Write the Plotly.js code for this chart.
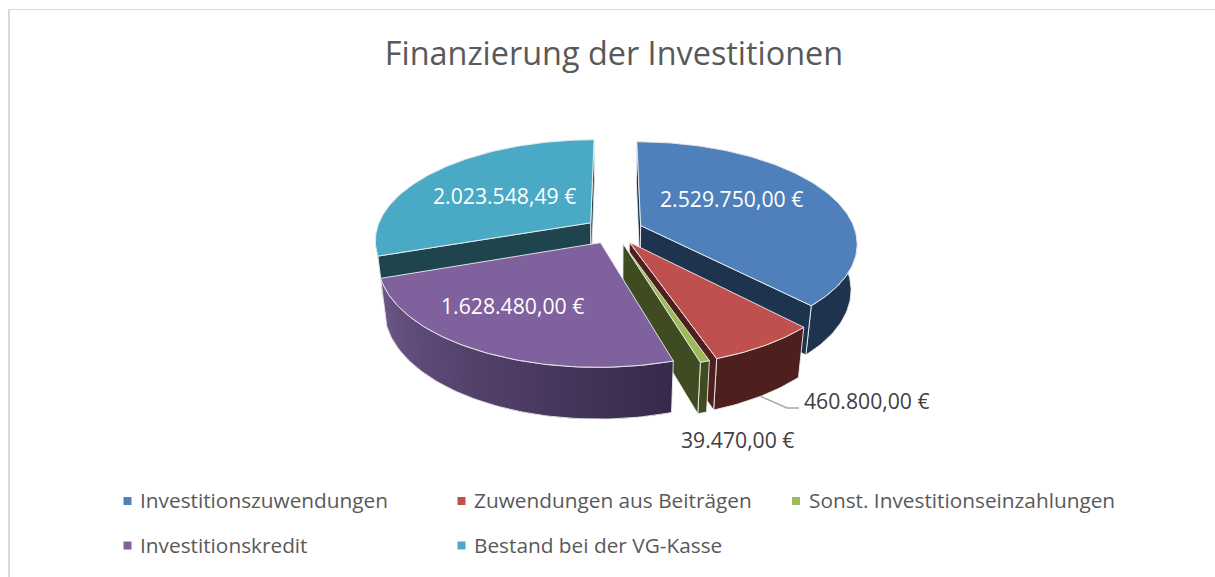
<!DOCTYPE html>
<html><head><meta charset="utf-8">
<script src="https://cdn.plot.ly/plotly-3.0.1.min.js"></script>
<style>html,body{margin:0;padding:0;background:#fff}#c{width:1215px;height:577px}</style>
</head><body><div id="c"></div>
<script>
const categories = ["Investitionszuwendungen","Zuwendungen aus Beiträgen","Sonst. Investitionseinzahlungen","Investitionskredit","Bestand bei der VG-Kasse"];
const values = [2529750.00, 460800.00, 39470.00, 1628480.00, 2023548.49];
const valueLabels = ["2.529.750,00 €","460.800,00 €","39.470,00 €","1.628.480,00 €","2.023.548,49 €"];
const topColors = ["#4f80bc","#c0504d","#9bbb59","#7f619e","#4aaac5"];
const wallColors = ["#1e334e","#4e1f1d","#3f4c21","#5a4670","#1f444e"];

const FONT = '"Open Sans", "Noto Sans", sans-serif';
// projection of the tilted, exploded disc into the plot's axis units
const P = {cx:614, cy:230.5, A:214.5, B:99.3, D:46.8, a:0.167, c:0.025, e:0.135};
function proj(u,v,z){
  const W = 1 - P.a*v + P.c*z;
  return [P.cx + P.A*u/W, P.cy + (P.B*v + P.D*z)/W];
}
const total = values.reduce((s,v)=>s+v,0);
let acc = 0;
const slices = values.map((v,i)=>{
  const s = acc/total*2*Math.PI; acc += v;
  const t = acc/total*2*Math.PI;
  return {i, s, t, m:(s+t)/2};
});
function pt(sl,th,r,z){
  const u = r*Math.sin(th) + P.e*Math.sin(sl.m);
  const v = -r*Math.cos(th) - P.e*Math.cos(sl.m);
  return proj(u,v,z);
}
function arc(sl,from,to,z){
  const n = Math.max(2,Math.ceil(Math.abs(to-from)/(Math.PI/180)));
  const out=[];
  for(let k=0;k<=n;k++) out.push(pt(sl,from+(to-from)*k/n,1,z));
  return out;
}
const traces = [];
function poly(points,fill,line,width){
  traces.push({type:'scatter',mode:'lines',x:points.map(p=>p[0]).concat(points[0][0]),y:points.map(p=>p[1]).concat(points[0][1]),
    fill:'toself',fillcolor:fill,line:{color:line,width:width},hoverinfo:'skip',showlegend:false});
}
function area(q){
  let s=0;
  q.forEach((p,k)=>{const n=q[(k+1)%q.length]; s+=p[0]*n[1]-n[0]*p[1];});
  return s;
}
function mix(c1,c2,f){
  const h=c=>[1,3,5].map(k=>parseInt(c.substr(k,2),16));
  const a=h(c1),b=h(c2);
  return 'rgb('+a.map((x,k)=>Math.round(x+(b[k]-x)*f)).join(',')+')';
}
const EDGE='rgba(236,238,240,0.9)';
function drawSlice(sl){
  const wall=wallColors[sl.i];
  const top=arc(sl,sl.s,sl.t,0), bot=arc(sl,sl.s,sl.t,1);
  const apexT=pt(sl,0,0,0), apexB=pt(sl,0,0,1);
  // outer wall
  if(sl.i===3){
    const n=top.length-1;
    for(let k=0;k<n;k++){
      const f=k/(n-1);
      const col=mix("#38294a","#6d5789",f);
      const j=Math.min(k+2,n);
      poly([top[k],top[k+1],top[j],bot[j],bot[k+1],bot[k]],col,col,0);
    }
    const edge=top.concat(bot.slice().reverse());
    traces.push({type:'scatter',mode:'lines',x:edge.map(p=>p[0]).concat(edge[0][0]),y:edge.map(p=>p[1]).concat(edge[0][1]),line:{color:EDGE,width:1},hoverinfo:'skip',showlegend:false});
  } else {
    poly(top.concat(bot.slice().reverse()),wall,EDGE,1);
  }
  // cut faces, only when they face the viewer
  const faceS=[apexT,pt(sl,sl.s,1,0),pt(sl,sl.s,1,1),apexB];
  const faceT=[apexT,pt(sl,sl.t,1,0),pt(sl,sl.t,1,1),apexB];
  if(area(faceS)<0) poly(faceS,wall,EDGE,1);
  if(area(faceT)>0) poly(faceT,wall,EDGE,1);
  // top face
  poly([apexT].concat(top),topColors[sl.i],EDGE,1);
}
// painter's order, back to front
[4,0,1,2,3].forEach(i=>drawSlice(slices[i]));

// leader line for the small red slice label
const red=slices[1];
const lead0=pt(red,red.s+(red.t-red.s)*0.5,1,1);
traces.push({type:'scatter',mode:'lines',x:[lead0[0],787,799],y:[lead0[1],408,408],line:{color:'#a6a6a6',width:1.5},hoverinfo:'skip',showlegend:false});

// legend squares
const legendX=[127.5,461.5,796,127.5,461.5], legendY=[501,501,501,545.5,545.5];
categories.forEach((c,i)=>{
  traces.push({type:'scatter',mode:'markers',x:[legendX[i]],y:[legendY[i]],name:c,
    marker:{symbol:'square',size:8,color:topColors[i]},hoverinfo:'name',showlegend:false});
});

const labelX=[731,867,737.5,512.5,504.5], labelY=[198,400,439,305,195];
const labelColor=['#ffffff','#404040','#404040','#ffffff','#ffffff'];
const annotations=valueLabels.map((t,i)=>({xref:'x',yref:'y',x:labelX[i],y:labelY[i],text:t,showarrow:false,
  xanchor:'center',yanchor:'middle',font:{family:FONT,size:21.2,color:labelColor[i]}}));
categories.forEach((c,i)=>annotations.push({xref:'x',yref:'y',x:legendX[i]+10.5,y:legendY[i]-1,text:c,showarrow:false,
  xanchor:'left',yanchor:'middle',font:{family:FONT,size:20.8,color:'#595959'}}));

const layout={
  width:1215,height:577,margin:{l:0,r:0,t:0,b:0},
  paper_bgcolor:'#fff',plot_bgcolor:'#fff',showlegend:false,
  title:{text:'Finanzierung der Investitionen',x:614/1215,xanchor:'center',y:1-54/577,yanchor:'middle',font:{family:FONT,size:32.4,color:'#595959'}},
  xaxis:{range:[0,1215],visible:false,fixedrange:true},
  yaxis:{range:[577,0],visible:false,fixedrange:true},
  annotations,
  shapes:[
    {type:'line',xref:'x',yref:'y',x0:9,x1:9,y0:9,y1:577,line:{color:'#d9d9d9',width:2}},
    {type:'line',xref:'x',yref:'y',x0:8,x1:1215,y0:9.5,y1:9.5,line:{color:'#d9d9d9',width:1}}
  ]
};
Plotly.newPlot('c',traces,layout,{displayModeBar:false,staticPlot:true});
</script></body></html>
